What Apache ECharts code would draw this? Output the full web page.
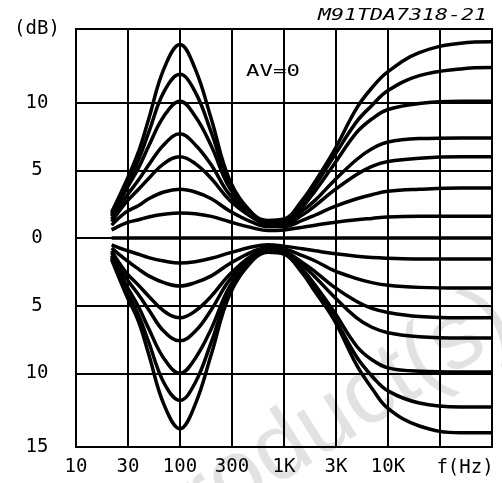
<!DOCTYPE html>
<html>
<head>
<meta charset="utf-8">
<script src="https://cdn.jsdelivr.net/npm/echarts@6/dist/echarts.min.js"></script>
<style>
html, body { margin: 0; padding: 0; background: #fff; }
#main { width: 502px; height: 483px; }
</style>
</head>
<body>
<div id="main"></div>
<script>
const freqs = [22, 30, 40, 50, 70, 100, 140, 200, 300, 500, 700, 1000, 1500, 2000, 3000, 5000, 7000, 10000, 20000, 50000, 100000];

// boost curves (dB)
const boost14 = [1.9, 4.1, 6.4, 8.8, 12.5, 14.3, 12.5, 8.8, 4.3, 1.8, 1.3, 1.4, 2.8, 4.2, 6.4, 9.6, 11.1, 12.3, 13.7, 14.4, 14.5];
const boost12 = [1.75, 3.8, 5.8, 7.8, 10.8, 12.1, 10.8, 7.8, 4.0, 1.75, 1.25, 1.3, 2.6, 3.9, 6.0, 8.6, 9.8, 10.9, 12.0, 12.5, 12.6];
const boost10 = [1.6, 3.5, 5.2, 6.8, 9.0, 10.1, 9.0, 6.8, 3.7, 1.7, 1.2, 1.2, 2.3, 3.5, 5.4, 7.8, 8.8, 9.5, 9.95, 10.1, 10.1];
const boost8 = [1.4, 3.0, 4.3, 5.4, 6.9, 7.7, 6.9, 5.4, 3.2, 1.6, 1.1, 1.1, 2.0, 2.8, 4.2, 5.8, 6.6, 7.1, 7.35, 7.4, 7.4];
const boost6 = [1.2, 2.6, 3.6, 4.4, 5.5, 6.0, 5.5, 4.4, 2.8, 1.5, 1.0, 1.0, 1.7, 2.4, 3.5, 4.7, 5.3, 5.65, 5.9, 6.0, 6.0];
const boost4 = [0.95, 1.9, 2.4, 2.9, 3.4, 3.6, 3.4, 2.9, 2.0, 1.15, 0.85, 0.85, 1.3, 1.7, 2.3, 2.9, 3.2, 3.45, 3.6, 3.7, 3.7];
const boost2 = [0.6, 1.1, 1.35, 1.55, 1.75, 1.85, 1.8, 1.6, 1.2, 0.75, 0.55, 0.6, 0.8, 0.95, 1.15, 1.35, 1.45, 1.55, 1.6, 1.6, 1.6];
const flat = [0, 0, 0, 0, 0, 0, 0, 0, 0, 0, 0, 0, 0, 0, 0, 0, 0, 0, 0, 0, 0];

// cut curves (dB)
const cut2 = [-0.5, -0.9, -1.2, -1.45, -1.7, -1.85, -1.75, -1.5, -1.1, -0.65, -0.5, -0.6, -0.8, -0.95, -1.15, -1.35, -1.45, -1.5, -1.55, -1.55, -1.55];
const cut4 = [-0.75, -1.6, -2.3, -2.8, -3.3, -3.55, -3.3, -2.8, -1.9, -1.0, -0.7, -0.8, -1.3, -1.7, -2.4, -3.0, -3.3, -3.5, -3.65, -3.7, -3.7];
const cut6 = [-0.95, -2.5, -3.5, -4.3, -5.4, -5.9, -5.4, -4.3, -2.7, -1.25, -0.85, -1.0, -1.8, -2.5, -3.6, -4.7, -5.2, -5.5, -5.8, -5.9, -5.9];
const cut8 = [-1.1, -2.9, -4.2, -5.3, -6.9, -7.6, -6.9, -5.3, -3.1, -1.35, -0.9, -1.05, -2.0, -2.9, -4.3, -5.9, -6.6, -7.0, -7.3, -7.4, -7.4];
const cut10 = [-1.3, -3.4, -5.1, -6.7, -8.9, -10.0, -8.9, -6.7, -3.6, -1.45, -0.95, -1.1, -2.3, -3.5, -5.4, -8.0, -9.0, -9.6, -9.85, -9.9, -9.9];
const cut12 = [-1.45, -3.8, -5.7, -7.7, -10.7, -12.0, -10.7, -7.7, -3.9, -1.55, -1.0, -1.15, -2.5, -3.8, -5.8, -8.8, -10.2, -11.3, -12.2, -12.5, -12.5];
const cut14 = [-1.6, -4.1, -6.2, -8.6, -12.3, -14.1, -12.3, -8.6, -4.2, -1.65, -1.05, -1.2, -2.6, -4.0, -6.0, -9.4, -11.1, -12.6, -13.9, -14.4, -14.4];

// axis ticks (the plotter grid puts the "30" lines at half decades,
// and its outer frame sits a little beyond +/-15 dB)
const xTicks = [10, 31.6, 100, 316, 1000, 3160, 10000, 31600, 100000];
const xTickLabels = ['10', '30', '100', '300', '1K', '3K', '10K', '', ''];
const yTicks = [-15.45, -10, -5, 0, 5, 10, 15.45];
const yTickLabels = ['15', '10', '5', '0', '5', '10', '(dB)'];

const curves = [boost14, boost12, boost10, boost8, boost6, boost4, boost2, flat,
  cut2, cut4, cut6, cut8, cut10, cut12, cut14];

const mono = '"DejaVu Sans Mono"';

const chart = echarts.init(document.getElementById('main'));
chart.setOption({
  animation: false,
  grid: {
    left: 76, right: 10, top: 29, bottom: 36,
    show: true, borderColor: '#000', borderWidth: 2
  },
  xAxis: {
    type: 'log',
    logBase: 10,
    min: 10,
    max: 100000,
    axisLine: { show: true, lineStyle: { color: '#000', width: 2 } },
    axisTick: { show: false, customValues: xTicks },
    splitLine: { show: true, lineStyle: { color: '#000', width: 2 } },
    axisLabel: {
      customValues: xTicks,
      margin: 11,
      color: '#000',
      fontFamily: mono,
      fontSize: 19,
      formatter: v => xTickLabels[xTicks.indexOf(v)] || ''
    }
  },
  yAxis: {
    type: 'value',
    min: yTicks[0],
    max: yTicks[yTicks.length - 1],
    axisLine: { show: true, lineStyle: { color: '#000', width: 2 } },
    axisTick: { show: false, customValues: yTicks },
    splitLine: { show: true, lineStyle: { color: '#000', width: 2 } },
    axisLabel: {
      customValues: yTicks,
      align: 'center',
      margin: 39,
      color: '#000',
      fontFamily: mono,
      fontSize: 19,
      formatter: v => yTickLabels[yTicks.indexOf(v)]
    }
  },
  graphic: [
    {
      type: 'text', x: 528, y: 352, rotation: 0.56, z: -10,
      style: { text: 'Product(s)', font: '94px "Liberation Sans"', fill: '#e2e2e2', align: 'right', verticalAlign: 'bottom' }
    },
    {
      type: 'text', x: 487, y: 16, scaleX: 1.44,
      style: { text: 'M91TDA7318-21', font: 'italic 15px ' + mono, fill: '#000', align: 'right', verticalAlign: 'middle' }
    },
    {
      type: 'text', x: 246, y: 72, scaleX: 1.4,
      style: { text: 'AV=0', font: '16px ' + mono, fill: '#000', align: 'left', verticalAlign: 'middle' }
    },
    {
      type: 'text', x: 465, y: 468,
      style: { text: 'f(Hz)', font: '19px ' + mono, fill: '#000', align: 'center', verticalAlign: 'middle' }
    }
  ],
  series: curves.map(c => ({
    type: 'line',
    data: freqs.map((f, i) => [f, c[i]]),
    smooth: 0.4,
    showSymbol: false,
    symbol: 'none',
    lineStyle: { color: '#000', width: 3.5 },
    silent: true
  }))
});
</script>
</body>
</html>
